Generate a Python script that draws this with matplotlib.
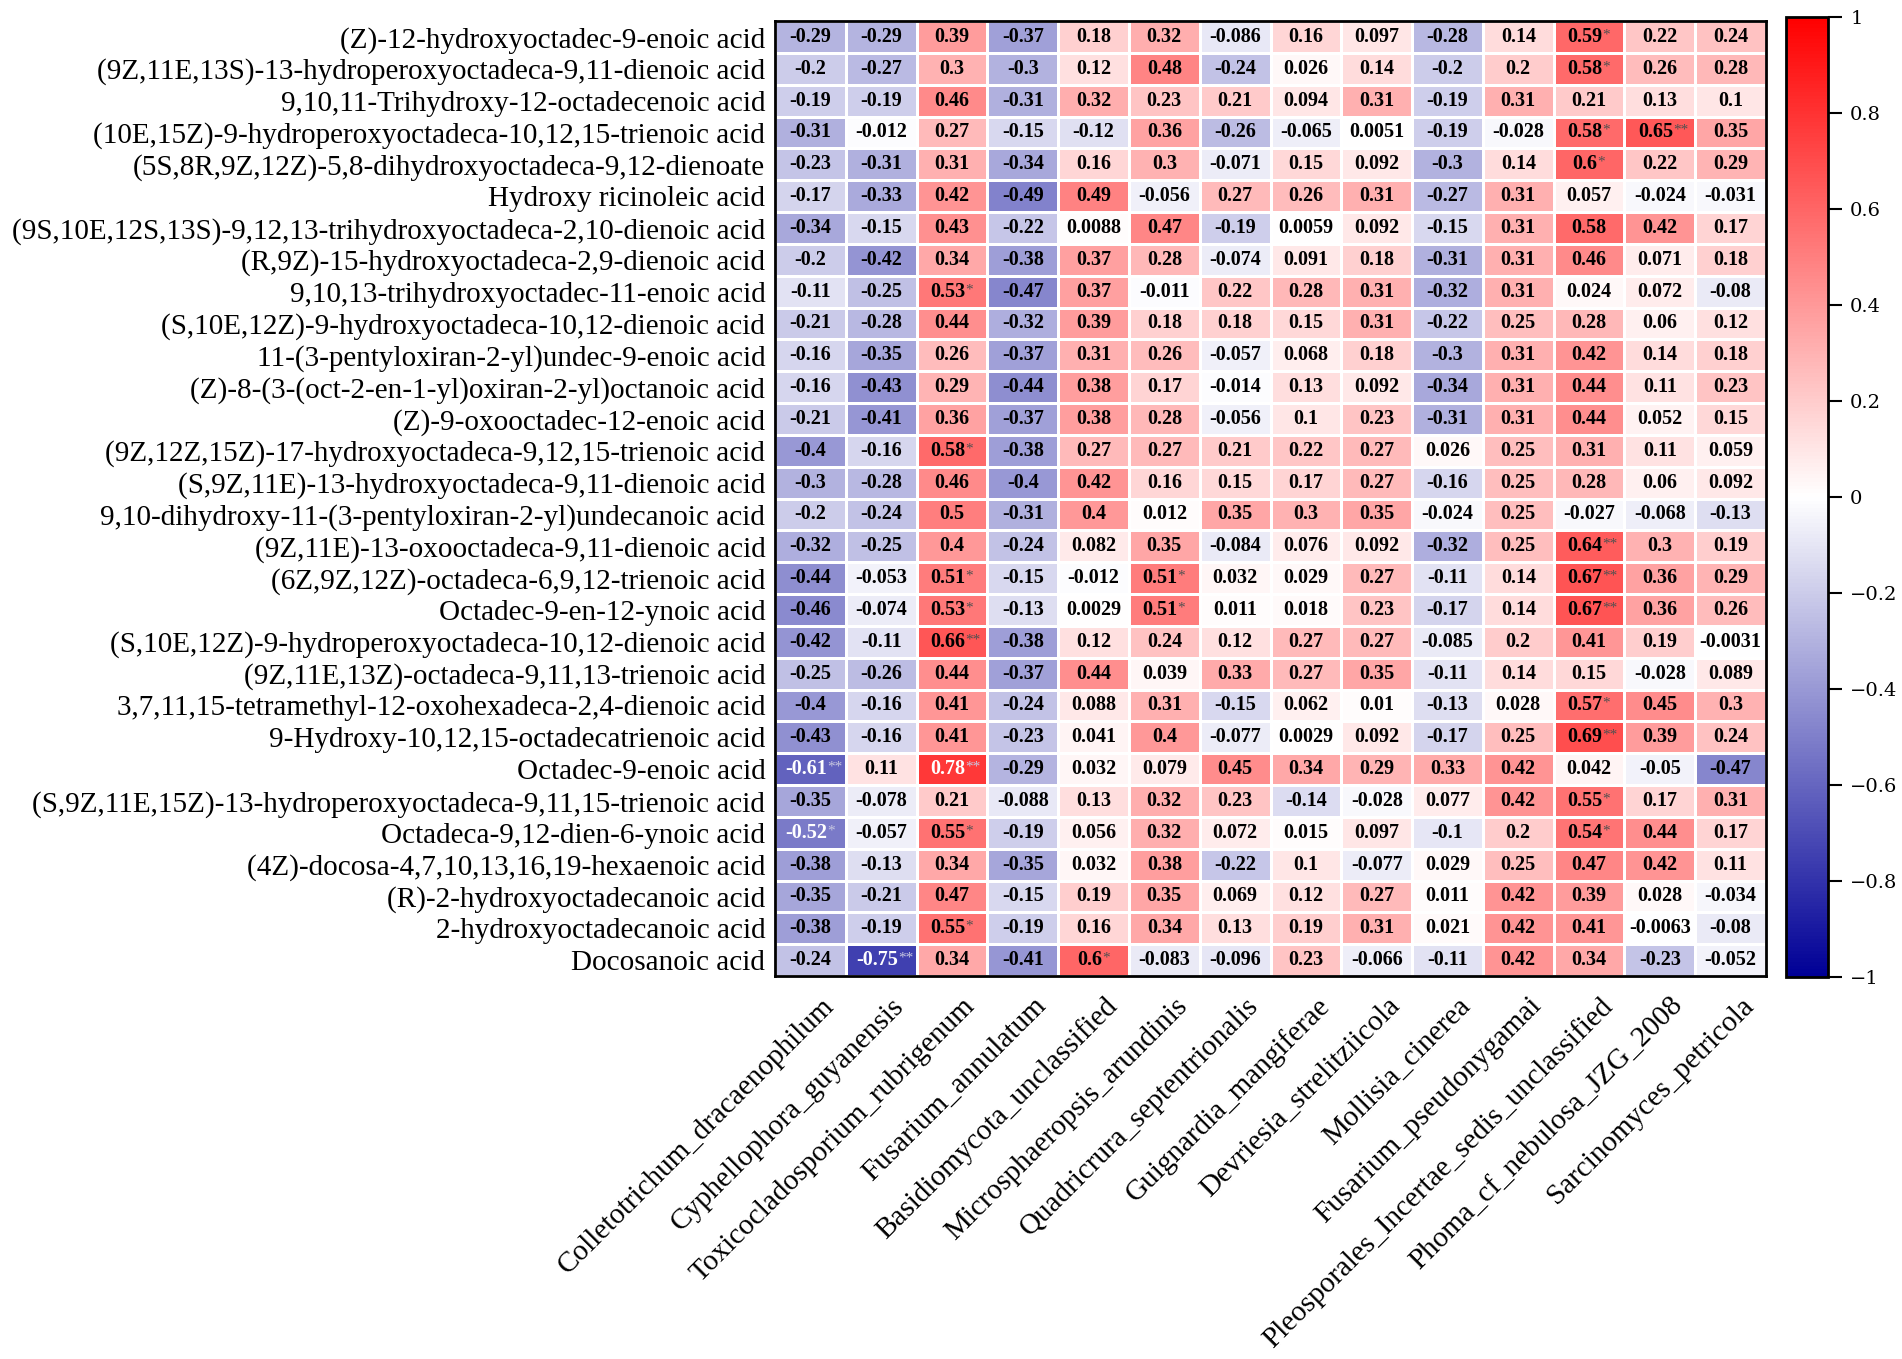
import numpy as np
import matplotlib
matplotlib.use("Agg")
import matplotlib.pyplot as plt
from matplotlib.colors import LinearSegmentedColormap
from matplotlib.transforms import ScaledTranslation

rows = [
    "(Z)-12-hydroxyoctadec-9-enoic acid",
    "(9Z,11E,13S)-13-hydroperoxyoctadeca-9,11-dienoic acid",
    "9,10,11-Trihydroxy-12-octadecenoic acid",
    "(10E,15Z)-9-hydroperoxyoctadeca-10,12,15-trienoic acid",
    "(5S,8R,9Z,12Z)-5,8-dihydroxyoctadeca-9,12-dienoate",
    "Hydroxy ricinoleic acid",
    "(9S,10E,12S,13S)-9,12,13-trihydroxyoctadeca-2,10-dienoic acid",
    "(R,9Z)-15-hydroxyoctadeca-2,9-dienoic acid",
    "9,10,13-trihydroxyoctadec-11-enoic acid",
    "(S,10E,12Z)-9-hydroxyoctadeca-10,12-dienoic acid",
    "11-(3-pentyloxiran-2-yl)undec-9-enoic acid",
    "(Z)-8-(3-(oct-2-en-1-yl)oxiran-2-yl)octanoic acid",
    "(Z)-9-oxooctadec-12-enoic acid",
    "(9Z,12Z,15Z)-17-hydroxyoctadeca-9,12,15-trienoic acid",
    "(S,9Z,11E)-13-hydroxyoctadeca-9,11-dienoic acid",
    "9,10-dihydroxy-11-(3-pentyloxiran-2-yl)undecanoic acid",
    "(9Z,11E)-13-oxooctadeca-9,11-dienoic acid",
    "(6Z,9Z,12Z)-octadeca-6,9,12-trienoic acid",
    "Octadec-9-en-12-ynoic acid",
    "(S,10E,12Z)-9-hydroperoxyoctadeca-10,12-dienoic acid",
    "(9Z,11E,13Z)-octadeca-9,11,13-trienoic acid",
    "3,7,11,15-tetramethyl-12-oxohexadeca-2,4-dienoic acid",
    "9-Hydroxy-10,12,15-octadecatrienoic acid",
    "Octadec-9-enoic acid",
    "(S,9Z,11E,15Z)-13-hydroperoxyoctadeca-9,11,15-trienoic acid",
    "Octadeca-9,12-dien-6-ynoic acid",
    "(4Z)-docosa-4,7,10,13,16,19-hexaenoic acid",
    "(R)-2-hydroxyoctadecanoic acid",
    "2-hydroxyoctadecanoic acid",
    "Docosanoic acid",
]

cols = [
    "Colletotrichum_dracaenophilum", "Cyphellophora_guyanensis",
    "Toxicocladosporium_rubrigenum", "Fusarium_annulatum",
    "Basidiomycota_unclassified", "Microsphaeropsis_arundinis",
    "Quadricrura_septentrionalis", "Guignardia_mangiferae",
    "Devriesia_strelitziicola", "Mollisia_cinerea",
    "Fusarium_pseudonygamai", "Pleosporales_Incertae_sedis_unclassified",
    "Phoma_cf_nebulosa_JZG_2008", "Sarcinomyces_petricola",
]

values = [
    [-0.29, -0.29, 0.39, -0.37, 0.18, 0.32, -0.086, 0.16, 0.097, -0.28, 0.14, 0.59, 0.22, 0.24],
    [-0.2, -0.27, 0.3, -0.3, 0.12, 0.48, -0.24, 0.026, 0.14, -0.2, 0.2, 0.58, 0.26, 0.28],
    [-0.19, -0.19, 0.46, -0.31, 0.32, 0.23, 0.21, 0.094, 0.31, -0.19, 0.31, 0.21, 0.13, 0.1],
    [-0.31, -0.012, 0.27, -0.15, -0.12, 0.36, -0.26, -0.065, 0.0051, -0.19, -0.028, 0.58, 0.65, 0.35],
    [-0.23, -0.31, 0.31, -0.34, 0.16, 0.3, -0.071, 0.15, 0.092, -0.3, 0.14, 0.6, 0.22, 0.29],
    [-0.17, -0.33, 0.42, -0.49, 0.49, -0.056, 0.27, 0.26, 0.31, -0.27, 0.31, 0.057, -0.024, -0.031],
    [-0.34, -0.15, 0.43, -0.22, 0.0088, 0.47, -0.19, 0.0059, 0.092, -0.15, 0.31, 0.58, 0.42, 0.17],
    [-0.2, -0.42, 0.34, -0.38, 0.37, 0.28, -0.074, 0.091, 0.18, -0.31, 0.31, 0.46, 0.071, 0.18],
    [-0.11, -0.25, 0.53, -0.47, 0.37, -0.011, 0.22, 0.28, 0.31, -0.32, 0.31, 0.024, 0.072, -0.08],
    [-0.21, -0.28, 0.44, -0.32, 0.39, 0.18, 0.18, 0.15, 0.31, -0.22, 0.25, 0.28, 0.06, 0.12],
    [-0.16, -0.35, 0.26, -0.37, 0.31, 0.26, -0.057, 0.068, 0.18, -0.3, 0.31, 0.42, 0.14, 0.18],
    [-0.16, -0.43, 0.29, -0.44, 0.38, 0.17, -0.014, 0.13, 0.092, -0.34, 0.31, 0.44, 0.11, 0.23],
    [-0.21, -0.41, 0.36, -0.37, 0.38, 0.28, -0.056, 0.1, 0.23, -0.31, 0.31, 0.44, 0.052, 0.15],
    [-0.4, -0.16, 0.58, -0.38, 0.27, 0.27, 0.21, 0.22, 0.27, 0.026, 0.25, 0.31, 0.11, 0.059],
    [-0.3, -0.28, 0.46, -0.4, 0.42, 0.16, 0.15, 0.17, 0.27, -0.16, 0.25, 0.28, 0.06, 0.092],
    [-0.2, -0.24, 0.5, -0.31, 0.4, 0.012, 0.35, 0.3, 0.35, -0.024, 0.25, -0.027, -0.068, -0.13],
    [-0.32, -0.25, 0.4, -0.24, 0.082, 0.35, -0.084, 0.076, 0.092, -0.32, 0.25, 0.64, 0.3, 0.19],
    [-0.44, -0.053, 0.51, -0.15, -0.012, 0.51, 0.032, 0.029, 0.27, -0.11, 0.14, 0.67, 0.36, 0.29],
    [-0.46, -0.074, 0.53, -0.13, 0.0029, 0.51, 0.011, 0.018, 0.23, -0.17, 0.14, 0.67, 0.36, 0.26],
    [-0.42, -0.11, 0.66, -0.38, 0.12, 0.24, 0.12, 0.27, 0.27, -0.085, 0.2, 0.41, 0.19, -0.0031],
    [-0.25, -0.26, 0.44, -0.37, 0.44, 0.039, 0.33, 0.27, 0.35, -0.11, 0.14, 0.15, -0.028, 0.089],
    [-0.4, -0.16, 0.41, -0.24, 0.088, 0.31, -0.15, 0.062, 0.01, -0.13, 0.028, 0.57, 0.45, 0.3],
    [-0.43, -0.16, 0.41, -0.23, 0.041, 0.4, -0.077, 0.0029, 0.092, -0.17, 0.25, 0.69, 0.39, 0.24],
    [-0.61, 0.11, 0.78, -0.29, 0.032, 0.079, 0.45, 0.34, 0.29, 0.33, 0.42, 0.042, -0.05, -0.47],
    [-0.35, -0.078, 0.21, -0.088, 0.13, 0.32, 0.23, -0.14, -0.028, 0.077, 0.42, 0.55, 0.17, 0.31],
    [-0.52, -0.057, 0.55, -0.19, 0.056, 0.32, 0.072, 0.015, 0.097, -0.1, 0.2, 0.54, 0.44, 0.17],
    [-0.38, -0.13, 0.34, -0.35, 0.032, 0.38, -0.22, 0.1, -0.077, 0.029, 0.25, 0.47, 0.42, 0.11],
    [-0.35, -0.21, 0.47, -0.15, 0.19, 0.35, 0.069, 0.12, 0.27, 0.011, 0.42, 0.39, 0.028, -0.034],
    [-0.38, -0.19, 0.55, -0.19, 0.16, 0.34, 0.13, 0.19, 0.31, 0.021, 0.42, 0.41, -0.0063, -0.08],
    [-0.24, -0.75, 0.34, -0.41, 0.6, -0.083, -0.096, 0.23, -0.066, -0.11, 0.42, 0.34, -0.23, -0.052],
]

# significance marks: (row, col, mark)
stars = [
    (0, 11, "*"), (1, 11, "*"), (3, 11, "*"), (3, 12, "**"), (4, 11, "*"),
    (8, 2, "*"), (13, 2, "*"), (16, 11, "**"),
    (17, 2, "*"), (17, 5, "*"), (17, 11, "**"),
    (18, 2, "*"), (18, 5, "*"), (18, 11, "**"),
    (19, 2, "**"), (21, 11, "*"), (22, 11, "**"),
    (23, 0, "**"), (23, 2, "**"), (24, 11, "*"),
    (25, 0, "*"), (25, 2, "*"), (25, 11, "*"),
    (28, 2, "*"), (29, 1, "**"), (29, 4, "*"),
]

cbar_ticks = [-1, -0.8, -0.6, -0.4, -0.2, 0, 0.2, 0.4, 0.6, 0.8, 1]

data = np.array(values)
star_map = {(r, c): s for r, c, s in stars}

cmap = LinearSegmentedColormap.from_list("bwr_custom", ["#000096", "#ffffff", "#ff0000"])

fig = plt.figure(figsize=(19.02, 13.59), dpi=100)
ax = fig.add_axes([0.4075, 0.2818, 0.521, 0.7027])
mesh = ax.pcolormesh(data, cmap=cmap, vmin=-1, vmax=1,
                     edgecolors="white", linewidth=0.8)
ax.set_xlim(0, len(cols))
ax.set_ylim(len(rows), 0)

serif = "Liberation Serif"

for r in range(data.shape[0]):
    for c in range(data.shape[1]):
        v = data[r, c]
        light = (v <= -0.5 or v >= 0.75)
        color = "white" if light else "black"
        s = star_map.get((r, c), "")
        txt = f"{v:.2g}"
        if s:
            t = ax.text(c + 0.44, r + 0.5, txt, ha="center", va="center",
                        fontsize=14.5, fontweight="bold", family=serif, color=color)
            ax.annotate(s, xy=(1.0, 0.6), xycoords=t, ha="left", va="center",
                        fontsize=11, family=serif,
                        color="#c8c8e0" if light else "#505050")
        else:
            ax.text(c + 0.5, r + 0.5, txt, ha="center", va="center",
                    fontsize=14.5, fontweight="bold", family=serif, color=color)

ax.set_yticks(np.arange(len(rows)) + 0.5)
ax.set_yticklabels(rows, family=serif, fontsize=21)
ax.set_xticks(np.arange(len(cols)) + 0.5)
ax.set_xticklabels(cols, family=serif, fontsize=21,
                   rotation=45, ha="right", va="top", rotation_mode="anchor")
ax.tick_params(axis="both", length=0)
ax.tick_params(axis="y", pad=7)
ax.tick_params(axis="x", pad=12)
shift = ScaledTranslation(0.10, 0, fig.dpi_scale_trans)
for lbl in ax.get_xticklabels():
    lbl.set_transform(lbl.get_transform() + shift)
for sp in ax.spines.values():
    sp.set_linewidth(2)

cax = fig.add_axes([0.939, 0.2811, 0.0221, 0.7064])
cb = fig.colorbar(mesh, cax=cax, ticks=cbar_ticks)
cb.outline.set_linewidth(2)
cax.set_yticklabels([("\u2212" if t < 0 else "") + (f"{abs(t):g}") for t in cbar_ticks],
                    family="DejaVu Serif", fontsize=14)
cax.tick_params(axis="y", length=10, width=1.5, pad=6)

fig.savefig("out.png", dpi=100)
